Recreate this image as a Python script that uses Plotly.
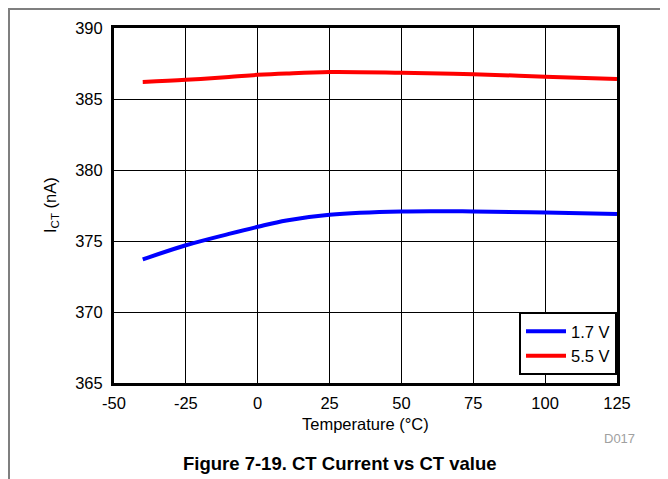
import plotly.graph_objects as go

temps = [-40, -25, -10, 0, 10, 25, 50, 75, 100, 125]
i_17v = [373.7, 374.7, 375.5, 376.0, 376.45, 376.85, 377.08, 377.08, 377.0, 376.9]
i_55v = [386.2, 386.35, 386.55, 386.7, 386.8, 386.9, 386.85, 386.75, 386.57, 386.4]
series_names = ["1.7 V", "5.5 V"]
x_ticks = [-50, -25, 0, 25, 50, 75, 100, 125]
y_ticks = [365, 370, 375, 380, 385, 390]

FONT = "Liberation Sans, Arial, sans-serif"
FS = 16.5

fig = go.Figure()
fig.add_trace(go.Scatter(x=temps, y=i_17v, mode="lines", name=series_names[0],
                         line=dict(color="#0000FF", width=4, shape="spline")))
fig.add_trace(go.Scatter(x=temps, y=i_55v, mode="lines", name=series_names[1],
                         line=dict(color="#FF0000", width=4, shape="spline")))

# page body has an 8px margin: figure coords = reference coords - 8
OFF = 8
W, H = 668 - OFF, 479 - OFF
L, T = 114 - OFF, 28 - OFF
R = W - (617 - OFF)
B = H - (383 - OFF)
pw, ph = W - L - R, H - T - B

def px(x):
    return (x - OFF - L) / pw

def py(y):
    return (H - B - (y - OFF)) / ph

def ann(text, x, y, size, color="black", angle=0):
    return dict(text=text, xref="paper", yref="paper", x=px(x), y=py(y),
                xanchor="center", yanchor="middle", showarrow=False,
                textangle=angle, font=dict(size=size, color=color))

fig.update_layout(
    width=W, height=H,
    margin=dict(l=L, r=R, t=T, b=B, pad=0),
    paper_bgcolor="white", plot_bgcolor="white",
    font=dict(family=FONT, size=FS, color="black"),
    showlegend=True,
    legend=dict(x=1, y=8 / ph, xanchor="right", yanchor="bottom",
                bordercolor="black", borderwidth=2, bgcolor="white",
                font=dict(size=FS), itemwidth=40, tracegroupgap=0),
    xaxis=dict(range=[-50, 125], tickvals=x_ticks, ticktext=[str(v) for v in x_ticks],
               showgrid=True, gridcolor="black", gridwidth=1,
               showline=True, linecolor="black", linewidth=3, mirror=True,
               zeroline=False, ticks="outside", ticklen=3, tickcolor="white", fixedrange=True),
    yaxis=dict(range=[365, 390], tickvals=y_ticks, ticktext=[str(v) for v in y_ticks],
               showgrid=True, gridcolor="black", gridwidth=1,
               showline=True, linecolor="black", linewidth=3, mirror=True,
               zeroline=False, ticks="outside", ticklen=5, tickcolor="white", fixedrange=True),
    shapes=[
        dict(type="line", xref="paper", yref="paper", x0=px(9), x1=px(668), y0=py(9), y1=py(9),
             line=dict(color="#7f7f7f", width=2)),
        dict(type="line", xref="paper", yref="paper", x0=px(9), x1=px(9), y0=py(8), y1=py(479),
             line=dict(color="#7f7f7f", width=2)),
    ],
    annotations=[
        ann("I<sub>CT</sub> (nA)", 51, 205, FS, angle=-90),
        ann("Temperature (°C)", 365, 424, FS),
        ann("D017", 619, 438, 13, color="#a0a0a0"),
        ann("<b>Figure 7-19. CT Current vs CT value</b>", 340, 464, 18.5),
    ],
)

fig.write_html("out.html")
